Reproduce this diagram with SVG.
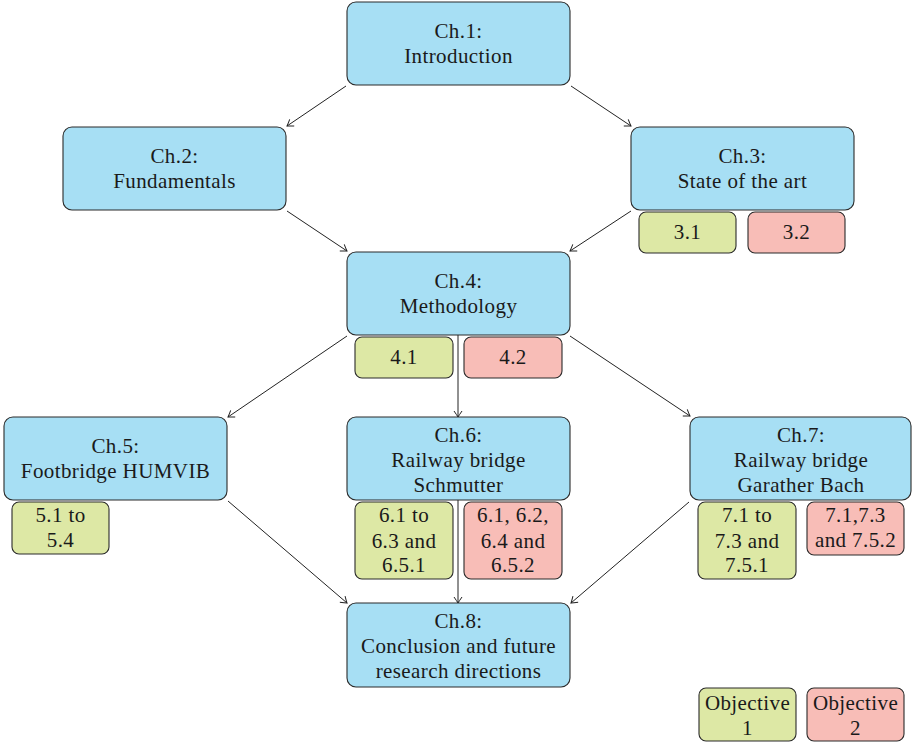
<svg xmlns="http://www.w3.org/2000/svg" width="912" height="745" viewBox="0 0 912 745" font-family="Liberation Serif">
<style>
.ch{fill:#a7dff4;stroke:#2b2b2b;stroke-width:1.1}
.g{fill:#dde8a5;stroke:#2b2b2b;stroke-width:1.1}
.r{fill:#f8bdb7;stroke:#2b2b2b;stroke-width:1.1}
text{font-family:'Liberation Serif',serif;font-size:21px;fill:#1a1a1a;text-anchor:middle;letter-spacing:0.4px}
.c line{stroke:#222;stroke-width:1;marker-end:url(#ah)}
</style>
<defs>
<marker id="ah" markerUnits="userSpaceOnUse" markerWidth="12" markerHeight="12" viewBox="-8 -6 10 12" refX="0" refY="0" orient="auto">
<path d="M -6 -4 Q -2 -1.2 0 0 Q -2 1.2 -6 4" fill="none" stroke="#222" stroke-width="1"/>
</marker>
</defs>
<rect width="912" height="745" fill="#fff"/>
<g id="connectors" class="c">
<line x1="346" y1="86" x2="287" y2="126"/>
<line x1="571" y1="86" x2="631" y2="126"/>
<line x1="287" y1="211" x2="347" y2="251"/>
<line x1="631" y1="211" x2="570" y2="251"/>
<line x1="347" y1="336" x2="228" y2="417"/>
<line x1="458" y1="335" x2="458" y2="417"/>
<line x1="570" y1="336" x2="690" y2="416"/>
<line x1="228" y1="501" x2="347" y2="603"/>
<line x1="458" y1="500" x2="458" y2="603"/>
<line x1="689" y1="502" x2="571" y2="603"/>
</g>
<g id="ch1"><rect class="ch" x="347" y="2" width="223" height="83" rx="9"/><text font-family="Liberation Serif" x="458.5" y="38">Ch.1:</text><text font-family="Liberation Serif" x="458.5" y="63">Introduction</text></g>
<g id="ch2"><rect class="ch" x="63" y="127" width="223" height="83" rx="9"/><text font-family="Liberation Serif" x="174.5" y="163">Ch.2:</text><text font-family="Liberation Serif" x="174.5" y="188">Fundamentals</text></g>
<g id="ch3"><rect class="ch" x="631" y="127" width="223" height="83" rx="9"/><text font-family="Liberation Serif" x="742.5" y="163">Ch.3:</text><text font-family="Liberation Serif" x="742.5" y="188">State of the art</text></g>
<g id="o31"><rect class="g" x="639" y="212" width="97" height="41" rx="7"/><text font-family="Liberation Serif" x="687.5" y="239">3.1</text></g>
<g id="o32"><rect class="r" x="748" y="212" width="97" height="41" rx="7"/><text font-family="Liberation Serif" x="796.5" y="239">3.2</text></g>
<g id="ch4"><rect class="ch" x="347" y="252" width="223" height="83" rx="9"/><text font-family="Liberation Serif" x="458.5" y="288">Ch.4:</text><text font-family="Liberation Serif" x="458.5" y="313">Methodology</text></g>
<g id="o41"><rect class="g" x="355" y="337" width="98" height="41" rx="7"/><text font-family="Liberation Serif" x="404" y="364">4.1</text></g>
<g id="o42"><rect class="r" x="464" y="337" width="98" height="41" rx="7"/><text font-family="Liberation Serif" x="513" y="364">4.2</text></g>
<g id="ch5"><rect class="ch" x="4" y="417" width="223" height="83" rx="9"/><text font-family="Liberation Serif" x="115.5" y="453">Ch.5:</text><text font-family="Liberation Serif" x="115.5" y="478">Footbridge HUMVIB</text></g>
<g id="o5"><rect class="g" x="12" y="502" width="97" height="52" rx="7"/><text font-family="Liberation Serif" x="60.5" y="522">5.1 to</text><text font-family="Liberation Serif" x="60.5" y="547">5.4</text></g>
<g id="ch6"><rect class="ch" x="347" y="417" width="223" height="83" rx="9"/><text font-family="Liberation Serif" x="458.5" y="442">Ch.6:</text><text font-family="Liberation Serif" x="458.5" y="467">Railway bridge</text><text font-family="Liberation Serif" x="458.5" y="492">Schmutter</text></g>
<g id="o6a"><rect class="g" x="355" y="502" width="98" height="77" rx="7"/><text font-family="Liberation Serif" x="404" y="522">6.1 to</text><text font-family="Liberation Serif" x="404" y="548">6.3 and</text><text font-family="Liberation Serif" x="404" y="572">6.5.1</text></g>
<g id="o6b"><rect class="r" x="464" y="502" width="98" height="77" rx="7"/><text font-family="Liberation Serif" x="513" y="522">6.1, 6.2,</text><text font-family="Liberation Serif" x="513" y="548">6.4 and</text><text font-family="Liberation Serif" x="513" y="572">6.5.2</text></g>
<g id="ch7"><rect class="ch" x="690" y="417" width="221" height="83" rx="9"/><text font-family="Liberation Serif" x="801" y="442">Ch.7:</text><text font-family="Liberation Serif" x="801" y="467">Railway bridge</text><text font-family="Liberation Serif" x="801" y="492">Garather Bach</text></g>
<g id="o7a"><rect class="g" x="698" y="502" width="98" height="77" rx="7"/><text font-family="Liberation Serif" x="747" y="522">7.1 to</text><text font-family="Liberation Serif" x="747" y="548">7.3 and</text><text font-family="Liberation Serif" x="747" y="572">7.5.1</text></g>
<g id="o7b"><rect class="r" x="807" y="502" width="97" height="53" rx="7"/><text font-family="Liberation Serif" x="855.5" y="522">7.1,7.3</text><text font-family="Liberation Serif" x="855.5" y="547">and 7.5.2</text></g>
<g id="ch8"><rect class="ch" x="347" y="603" width="223" height="84" rx="9"/><text font-family="Liberation Serif" x="458.5" y="628">Ch.8:</text><text font-family="Liberation Serif" x="458.5" y="653">Conclusion and future</text><text font-family="Liberation Serif" x="458.5" y="678">research directions</text></g>
<g id="leg1"><rect class="g" x="699" y="688" width="97" height="53" rx="7"/><text font-family="Liberation Serif" x="747.5" y="710">Objective</text><text font-family="Liberation Serif" x="747.5" y="735">1</text></g>
<g id="leg2"><rect class="r" x="807" y="688" width="97" height="53" rx="7"/><text font-family="Liberation Serif" x="855.5" y="710">Objective</text><text font-family="Liberation Serif" x="855.5" y="735">2</text></g>
</svg>
